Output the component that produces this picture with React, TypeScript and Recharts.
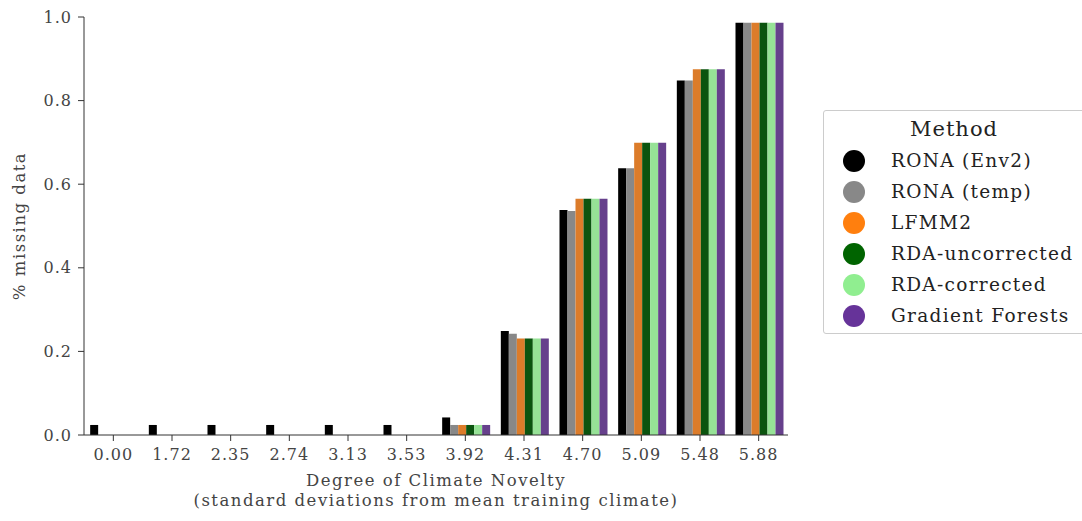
import React from "react";
import { BarChart, Bar, XAxis, YAxis, Label } from "recharts";

const novelty = ["0.00", "1.72", "2.35", "2.74", "3.13", "3.53", "3.92", "4.31", "4.70", "5.09", "5.48", "5.88"];

const ronaEnv2 = [0.024, 0.024, 0.024, 0.024, 0.024, 0.024, 0.042, 0.249, 0.538, 0.638, 0.848, 0.986];
const ronaTemp = [0, 0, 0, 0, 0, 0, 0.024, 0.242, 0.536, 0.638, 0.848, 0.986];
const lfmm2 = [0, 0, 0, 0, 0, 0, 0.024, 0.231, 0.565, 0.699, 0.875, 0.986];
const rdaUncorrected = [0, 0, 0, 0, 0, 0, 0.024, 0.231, 0.565, 0.699, 0.875, 0.986];
const rdaCorrected = [0, 0, 0, 0, 0, 0, 0.024, 0.231, 0.565, 0.699, 0.875, 0.986];
const gradientForests = [0, 0, 0, 0, 0, 0, 0.024, 0.231, 0.565, 0.699, 0.875, 0.986];

const yTicks = [0, 0.2, 0.4, 0.6, 0.8, 1.0];

const methods = [
	{ key: "ronaEnv2", name: "RONA (Env2)", bar: "#000000", dot: "#000000" },
	{ key: "ronaTemp", name: "RONA (temp)", bar: "#888888", dot: "#888888" },
	{ key: "lfmm2", name: "LFMM2", bar: "#dc7c2a", dot: "#ff7f0e" },
	{ key: "rdaUncorrected", name: "RDA-uncorrected", bar: "#0b540f", dot: "#006400" },
	{ key: "rdaCorrected", name: "RDA-corrected", bar: "#96e296", dot: "#90ee90" },
	{ key: "gradientForests", name: "Gradient Forests", bar: "#66408c", dot: "#663399" },
];

const data = novelty.map((n, i) => ({
	novelty: n,
	ronaEnv2: ronaEnv2[i],
	ronaTemp: ronaTemp[i],
	lfmm2: lfmm2[i],
	rdaUncorrected: rdaUncorrected[i],
	rdaCorrected: rdaCorrected[i],
	gradientForests: gradientForests[i],
}));

const FONT = "'DejaVu Serif', serif";
const tickStyle = { fontFamily: FONT, fontSize: 16, fill: "#444", letterSpacing: 1 };

// legend box sitting to the right of the plot
const MethodLegend = () => (
	<div
		style={{
			position: "absolute",
			left: 823,
			top: 110,
			width: 262,
			height: 224,
			boxSizing: "border-box",
			border: "1px solid #ccc",
			borderRadius: 3,
			background: "#fff",
			fontFamily: FONT,
			color: "#222",
			paddingTop: 4,
		}}
	>
		<div
			style={{
				textAlign: "center",
				fontSize: 21,
				letterSpacing: 1,
				lineHeight: "28px",
				marginBottom: 2,
			}}
		>
			Method
		</div>
		{methods.map((m) => (
			<div key={m.key} style={{ display: "flex", alignItems: "center", height: 31 }}>
				<span
					style={{
						display: "inline-block",
						width: 22,
						height: 22,
						borderRadius: "50%",
						background: m.dot,
						marginLeft: 19,
						marginRight: 26,
					}}
				/>
				<span style={{ fontSize: 18.5, letterSpacing: 1.3, whiteSpace: "nowrap" }}>{m.name}</span>
			</div>
		))}
	</div>
);

const App: React.FC = () => {
	return (
		<div style={{ position: "absolute", left: 0, top: 0, width: 1082, height: 521 }}>
			<BarChart
				width={1082}
				height={521}
				data={data}
				margin={{ top: 17, right: 294, left: 0, bottom: 56 }}
				barCategoryGap="10.5%"
				barGap={0}
			>
				<XAxis
					dataKey="novelty"
					tick={tickStyle}
					tickSize={6}
					tickMargin={8}
					stroke="#333"
					interval={0}
					height={30}
				>
					<Label
						content={({ viewBox }: any) => {
							const cx = viewBox.x + viewBox.width / 2;
							return (
								<g fontFamily={FONT} fontSize={16.5} fill="#444" textAnchor="middle" letterSpacing={1.5}>
									<text x={cx} y={486}>Degree of Climate Novelty</text>
									<text x={cx} y={506}>(standard deviations from mean training climate)</text>
								</g>
							);
						}}
					/>
				</XAxis>
				<YAxis
					domain={[0, 1]}
					ticks={yTicks}
					tickFormatter={(v: number) => v.toFixed(1)}
					tick={tickStyle}
					tickSize={6}
					tickMargin={6}
					stroke="#333"
					width={84}
					allowDataOverflow
				>
					<Label
						value="% missing data"
						angle={-90}
						position="insideLeft"
						offset={19}
						style={{ fontFamily: FONT, fontSize: 16.5, fill: "#444", textAnchor: "middle", letterSpacing: 1.5 }}
					/>
				</YAxis>
				{methods.map((m) => (
					<Bar
						key={m.key}
						dataKey={m.key}
						name={m.name}
						fill={m.bar}
						isAnimationActive={false}
					/>
				))}
			</BarChart>
			<MethodLegend />
		</div>
	);
};

export default App;
